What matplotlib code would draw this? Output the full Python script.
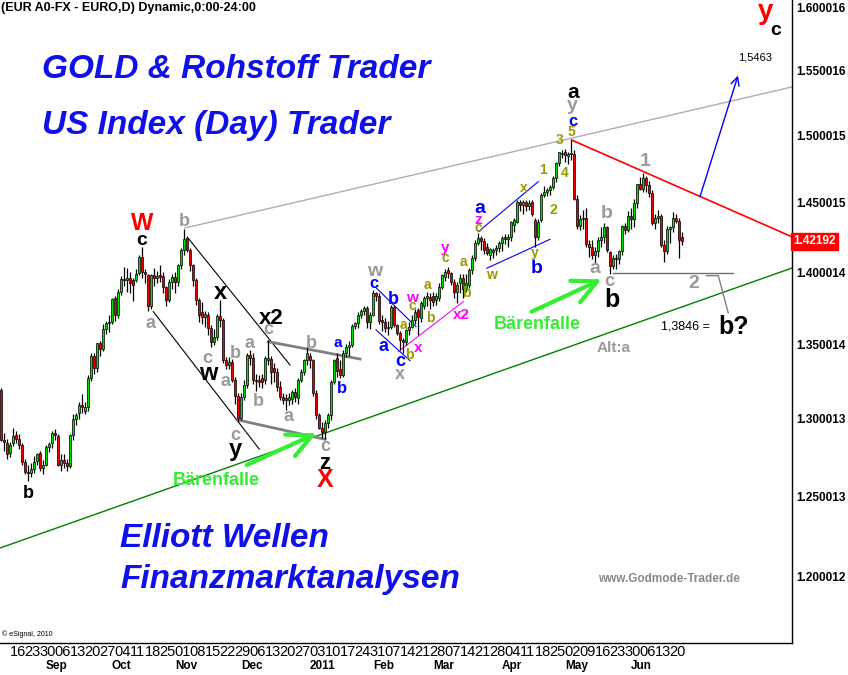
import numpy as np
import pandas as pd
import matplotlib
matplotlib.use('Agg')
import matplotlib.pyplot as plt
import matplotlib.transforms as mtransforms
from matplotlib.ticker import NullLocator

plt.rcParams['font.family'] = ['Liberation Sans', 'DejaVu Sans']

# EUR/USD daily candles, 11 Aug 2010 .. 24 Jun 2011 (one line per month)
opens = [
    1.3190,1.2862,1.2839,1.2774,1.2839,1.2891,1.2865,1.2828,1.2720,1.2657,1.2650,1.2671,1.2725,1.2774,1.2678,
    1.2699,1.2813,1.2839,1.2904,1.2887,1.2699,1.2730,1.2710,1.2692,1.2893,1.2996,1.3035,1.3088,1.3053,1.3079,1.3268,1.3419,1.3335,1.3505,1.3466,1.3601,1.3642,
    1.3653,1.3815,1.3700,1.3862,1.3950,1.3944,1.3957,1.3944,1.3944,1.3992,1.4105,1.4003,1.3980,1.3762,1.3980,1.3957,1.3980,1.3970,1.3893,1.3804,1.3932,
    1.3965,1.3932,1.4050,1.4157,1.4241,1.4157,1.4050,1.3944,1.3804,1.3720,1.3688,1.3700,1.3608,1.3516,1.3551,1.3690,1.3665,1.3392,1.3360,1.3380,1.3257,1.3147,
    1.3002,1.3145,1.3223,1.3425,1.3403,1.3260,1.3257,1.3270,1.3257,1.3392,1.3400,1.3335,1.3313,1.3212,1.3140,1.3135,1.3124,1.3130,1.3179,1.3135,1.3257,1.3313,1.3392,
    1.3420,1.3390,1.3168,1.3024,1.2940,1.2915,1.2970,1.3024,1.3246,1.3403,1.3330,1.3290,1.3440,1.3480,1.3490,1.3625,1.3642,1.3700,1.3730,1.3745,1.3650,
    1.3700,1.3850,1.3830,1.3665,1.3654,1.3608,1.3620,1.3753,1.3631,1.3574,1.3528,1.3516,1.3597,1.3620,1.3665,1.3734,1.3677,1.3762,1.3816,1.3827,
    1.3832,1.3804,1.3816,1.3897,1.3968,1.4015,1.3991,1.3932,1.3860,1.3921,1.3960,1.3880,1.3910,1.4015,1.4098,1.4206,1.4245,1.4220,1.4181,1.4125,1.4140,1.4155,1.4175,
    1.4210,1.4250,1.4235,1.4250,1.4340,1.4360,1.4508,1.4480,1.4505,1.4478,1.4505,1.4374,1.4253,1.4374,1.4557,1.4581,1.4595,1.4615,1.4680,1.4792,1.4860,
    1.4875,1.4845,1.4860,1.4865,1.4530,1.4330,1.4380,1.4390,1.4200,1.4180,1.4120,1.4150,1.4230,1.4250,1.4320,1.4140,1.4040,1.4100,1.4090,1.4150,1.4330,1.4300,
    1.4400,1.4380,1.4500,1.4640,1.4600,1.4680,1.4630,1.4570,1.4350,1.4390,1.4400,1.4190,1.4150,1.4310,1.4320,1.4390,1.4370,1.4250,
]
highs = [
    1.3205,1.2905,1.2870,1.2850,1.2940,1.2920,1.2900,1.2840,1.2735,1.2700,1.2710,1.2760,1.2775,1.2790,1.2730,
    1.2830,1.2850,1.2920,1.2930,1.2900,1.2770,1.2770,1.2740,1.2900,1.3030,1.3040,1.3110,1.3160,1.3110,1.3290,1.3440,1.3440,1.3510,1.3520,1.3640,1.3660,1.3700,
    1.3820,1.3830,1.3880,1.3970,1.4038,1.4030,1.4000,1.3960,1.4020,1.4120,1.4181,1.4020,1.3990,1.3990,1.4030,1.4010,1.4050,1.4000,1.3900,1.3950,1.3990,
    1.4000,1.4060,1.4170,1.4306,1.4260,1.4170,1.4060,1.3960,1.3820,1.3790,1.3730,1.3720,1.3630,1.3600,1.3710,1.3804,1.3680,1.3410,1.3410,1.3400,1.3280,1.3170,
    1.3170,1.3260,1.3440,1.3460,1.3440,1.3300,1.3290,1.3300,1.3420,1.3528,1.3420,1.3370,1.3340,1.3250,1.3170,1.3160,1.3170,1.3190,1.3200,1.3270,1.3330,1.3400,1.3482,
    1.3440,1.3400,1.3190,1.3040,1.2980,1.2990,1.3040,1.3260,1.3400,1.3440,1.3390,1.3460,1.3500,1.3520,1.3640,1.3650,1.3720,1.3740,1.3760,1.3760,1.3720,
    1.3874,1.3860,1.3850,1.3700,1.3680,1.3660,1.3770,1.3760,1.3640,1.3590,1.3540,1.3600,1.3650,1.3700,1.3740,1.3750,1.3800,1.3830,1.3860,1.3850,
    1.3860,1.3850,1.3920,1.3990,1.4020,1.4039,1.4000,1.3950,1.3930,1.3990,1.3990,1.3990,1.4030,1.4120,1.4230,1.4277,1.4260,1.4240,1.4210,1.4170,1.4170,1.4190,1.4220,
    1.4260,1.4270,1.4270,1.4370,1.4390,1.4520,1.4520,1.4520,1.4520,1.4520,1.4520,1.4390,1.4380,1.4570,1.4620,1.4610,1.4630,1.4700,1.4800,1.4880,1.4890,
    1.4900,1.4880,1.4967,1.4890,1.4560,1.4410,1.4450,1.4460,1.4230,1.4230,1.4180,1.4250,1.4320,1.4350,1.4330,1.4150,1.4120,1.4130,1.4160,1.4340,1.4350,1.4440,
    1.4460,1.4530,1.4640,1.4690,1.4720,1.4700,1.4660,1.4590,1.4420,1.4450,1.4420,1.4230,1.4330,1.4330,1.4430,1.4420,1.4390,1.4290,
]
lows = [
    1.2855,1.2790,1.2740,1.2750,1.2820,1.2840,1.2800,1.2700,1.2640,1.2595,1.2620,1.2650,1.2700,1.2660,1.2640,
    1.2690,1.2780,1.2810,1.2860,1.2690,1.2660,1.2680,1.2660,1.2680,1.2860,1.2960,1.3000,1.3040,1.3030,1.3050,1.3250,1.3300,1.3310,1.3420,1.3450,1.3570,1.3580,
    1.3640,1.3660,1.3680,1.3840,1.3900,1.3860,1.3850,1.3800,1.3930,1.3980,1.3960,1.3920,1.3730,1.3740,1.3900,1.3920,1.3930,1.3850,1.3762,1.3790,1.3880,
    1.3850,1.3900,1.4020,1.4120,1.4140,1.4010,1.3900,1.3770,1.3650,1.3640,1.3620,1.3560,1.3480,1.3490,1.3530,1.3620,1.3370,1.3330,1.3330,1.3240,1.3100,1.2975,
    1.2990,1.3120,1.3200,1.3360,1.3230,1.3180,1.3210,1.3200,1.3230,1.3360,1.3230,1.3240,1.3180,1.3120,1.3100,1.3060,1.3090,1.3100,1.3110,1.3100,1.3240,1.3290,1.3360,
    1.3340,1.3150,1.3000,1.2930,1.2875,1.2865,1.2940,1.2990,1.3230,1.3280,1.3270,1.3280,1.3410,1.3420,1.3480,1.3600,1.3610,1.3680,1.3700,1.3610,1.3600,
    1.3690,1.3800,1.3640,1.3590,1.3580,1.3560,1.3600,1.3620,1.3560,1.3460,1.3440,1.3490,1.3560,1.3610,1.3640,1.3560,1.3650,1.3740,1.3760,1.3740,
    1.3760,1.3770,1.3800,1.3880,1.3940,1.3960,1.3910,1.3820,1.3780,1.3850,1.3820,1.3860,1.3890,1.3990,1.4080,1.4190,1.4160,1.4130,1.4120,1.4085,1.4100,1.4120,1.4140,
    1.4150,1.4200,1.4180,1.4220,1.4290,1.4350,1.4440,1.4420,1.4440,1.4450,1.4400,1.4181,1.4230,1.4360,1.4540,1.4550,1.4560,1.4600,1.4650,1.4770,1.4830,
    1.4800,1.4790,1.4820,1.4520,1.4310,1.4300,1.4310,1.4180,1.4110,1.4090,1.4060,1.4110,1.4180,1.4210,1.4140,1.3985,1.4020,1.4020,1.4060,1.4120,1.4270,1.4290,
    1.4310,1.4320,1.4460,1.4590,1.4580,1.4580,1.4540,1.4340,1.4310,1.4350,1.4180,1.4070,1.4130,1.4210,1.4290,1.4350,1.4100,1.4190,
]
closes = [
    1.2862,1.2845,1.2770,1.2828,1.2887,1.2869,1.2828,1.2720,1.2657,1.2650,1.2671,1.2720,1.2770,1.2678,1.2699,
    1.2813,1.2835,1.2904,1.2893,1.2699,1.2730,1.2710,1.2692,1.2893,1.2996,1.3024,1.3088,1.3075,1.3075,1.3268,1.3419,1.3335,1.3505,1.3466,1.3601,1.3642,1.3653,
    1.3811,1.3700,1.3860,1.3950,1.3945,1.3961,1.3921,1.3909,1.3987,1.4105,1.4003,1.3987,1.3762,1.3980,1.3957,1.3975,1.3968,1.3893,1.3804,1.3932,1.3968,
    1.3932,1.4050,1.4157,1.4234,1.4157,1.4050,1.3944,1.3804,1.3700,1.3688,1.3706,1.3608,1.3516,1.3551,1.3690,1.3665,1.3392,1.3360,1.3380,1.3257,1.3147,1.3002,
    1.3145,1.3223,1.3425,1.3403,1.3257,1.3250,1.3240,1.3240,1.3403,1.3403,1.3313,1.3313,1.3212,1.3145,1.3124,1.3120,1.3145,1.3179,1.3140,1.3257,1.3313,1.3392,1.3440,
    1.3390,1.3168,1.3024,1.2940,1.2915,1.2970,1.3024,1.3246,1.3392,1.3320,1.3290,1.3440,1.3480,1.3490,1.3625,1.3642,1.3700,1.3730,1.3745,1.3650,1.3700,
    1.3850,1.3830,1.3660,1.3654,1.3608,1.3620,1.3753,1.3631,1.3574,1.3528,1.3516,1.3597,1.3620,1.3665,1.3723,1.3688,1.3781,1.3816,1.3832,1.3804,
    1.3793,1.3832,1.3897,1.3980,1.4003,1.3991,1.3932,1.3860,1.3910,1.3960,1.3880,1.3920,1.4015,1.4098,1.4206,1.4245,1.4220,1.4157,1.4135,1.4165,1.4155,1.4175,1.4210,
    1.4240,1.4235,1.4250,1.4360,1.4374,1.4508,1.4480,1.4505,1.4478,1.4500,1.4420,1.4253,1.4362,1.4557,1.4581,1.4595,1.4615,1.4680,1.4792,1.4875,1.4870,
    1.4854,1.4865,1.4870,1.4530,1.4330,1.4380,1.4390,1.4200,1.4180,1.4120,1.4150,1.4230,1.4250,1.4320,1.4160,1.4040,1.4100,1.4090,1.4150,1.4330,1.4300,1.4400,
    1.4380,1.4500,1.4640,1.4600,1.4680,1.4630,1.4570,1.4350,1.4390,1.4400,1.4190,1.4150,1.4310,1.4320,1.4390,1.4370,1.4230,1.4219,
]
last_price = 1.42192
price_ticks = [1.600016, 1.550016, 1.500015, 1.450015, 1.400014,
               1.350014, 1.300013, 1.250013, 1.200012]

GRAY = '#9a9a9a'
OLIVE = '#9a9a00'
BLUE = '#0000ff'
MAG = '#ff00ff'
LIME = '#33ee33'

# wave counts: text, bar, price, colour, size
wave_labels = [
    ('W', 46.9, 1.4350, 'red', 17), ('c', 46.9, 1.4229, 'black', 14),
    ('b', 61.0, 1.4361, GRAY, 13), ('a', 49.7, 1.3642, GRAY, 13),
    ('x', 73.0, 1.3853, 'black', 17), ('c', 68.8, 1.3403, GRAY, 13),
    ('w', 69.1, 1.3302, 'black', 17), ('b', 78.0, 1.3437, GRAY, 13),
    ('a', 74.7, 1.3246, GRAY, 13), ('c', 89.1, 1.3597, GRAY, 13),
    ('x2', 90.2, 1.3677, 'black', 16), ('a', 83.0, 1.3505, GRAY, 13),
    ('b', 85.8, 1.3112, GRAY, 13), ('a', 95.8, 1.3013, GRAY, 13),
    ('b', 103.6, 1.3505, GRAY, 13), ('a', 112.4, 1.3505, BLUE, 11),
    ('b', 113.6, 1.3201, BLUE, 12), ('c', 78.0, 1.2893, GRAY, 13),
    ('y', 78.0, 1.2796, 'black', 17), ('c', 108.0, 1.2817, GRAY, 13),
    ('z', 108.0, 1.2711, 'black', 16), ('X', 108.0, 1.2603, 'red', 18),
    ('b', 9.1, 1.2519, 'black', 13),
    ('w', 124.7, 1.4001, GRAY, 14), ('c', 124.4, 1.3921, BLUE, 12),
    ('b', 130.8, 1.3804, BLUE, 13), ('w', 136.9, 1.3816, MAG, 11),
    ('c', 137.2, 1.3762, OLIVE, 10), ('a', 134.1, 1.3631, OLIVE, 10),
    ('b', 143.0, 1.3677, OLIVE, 10), ('a', 142.1, 1.3909, OLIVE, 10),
    ('a', 127.4, 1.3482, BLUE, 13), ('x', 139.1, 1.3471, MAG, 11),
    ('b', 136.1, 1.3425, OLIVE, 10), ('c', 133.2, 1.3380, BLUE, 13),
    ('x', 132.8, 1.3291, GRAY, 13), ('y', 148.0, 1.4170, MAG, 11),
    ('c', 148.0, 1.4098, OLIVE, 10), ('a', 154.1, 1.4074, OLIVE, 10),
    ('b', 155.0, 1.3850, OLIVE, 10), ('x2', 153.6, 1.3700, MAG, 11),
    ('a', 159.7, 1.4459, BLUE, 14), ('z', 159.1, 1.4374, MAG, 11),
    ('c', 159.1, 1.4314, OLIVE, 10), ('w', 163.6, 1.3980, OLIVE, 10),
    ('x', 174.1, 1.4606, OLIVE, 10), ('y', 178.0, 1.4133, OLIVE, 10),
    ('b', 178.6, 1.4027, BLUE, 14),
    ('1', 180.8, 1.4742, OLIVE, 10), ('2', 184.1, 1.4447, OLIVE, 10),
    ('3', 186.1, 1.4967, OLIVE, 10), ('4', 188.0, 1.4717, OLIVE, 10),
    ('5', 190.2, 1.5030, OLIVE, 10), ('c', 190.6, 1.5106, BLUE, 12),
    ('y', 190.6, 1.5234, GRAY, 14), ('a', 190.8, 1.5329, 'black', 15),
    ('b', 201.9, 1.4423, GRAY, 14), ('a', 197.8, 1.4027, GRAY, 14),
    ('c', 202.8, 1.3932, GRAY, 13), ('b', 203.6, 1.3804, 'black', 18),
    ('Alt:a', 204.1, 1.3471, GRAY, 11),
    ('1', 214.7, 1.4804, GRAY, 14), ('2', 230.8, 1.3921, GRAY, 14),
    ('b?', 244.1, 1.3619, 'black', 18),
    ('y', 254.7, 1.5968, 'red', 20), ('c', 258.3, 1.5823, 'black', 14),
]
trap_labels = [('Bärenfalle', 71.9, 1.2603), ('Bärenfalle', 178.8, 1.3631)]
target_text = ('1,5463', 251.3, 1.5601)
b_target_text = ('1,3846 =', 228.3, 1.3619)

# trend lines as (bar, price) end points
upper_line = [(61.33, 1.4316), (263.67, 1.5374)]
lower_line = [(-0.33, 1.2177), (263.67, 1.4029)]
red_line = [(190.2, 1.4967), (263.67, 1.4252)]
black_lines = [[(62.43, 1.4241), (96.33, 1.3358)], [(50.77, 1.3723), (86.1, 1.2801)]]
gray_thick = [[(79.1, 1.2991), (108.0, 1.2865)], [(89.1, 1.3516), (119.67, 1.3398)]]
blue_lines = [[(125.2, 1.3886), (138.33, 1.3619)], [(125.0, 1.3597), (136.33, 1.3387)],
              [(159.1, 1.4289), (179.1, 1.4655)], [(161.9, 1.4027), (183.0, 1.4234)]]
magenta_line = [(132.43, 1.3448), (154.1, 1.3793)]
b_level = [(204.1, 1.3996), (244.1, 1.3996)]
bracket = [(235.2, 1.3975), (239.1, 1.3975), (242.4, 1.3716)]
green_arrows = [[(81.9, 1.2699), (105.2, 1.2904)], [(176.9, 1.3723), (200.2, 1.3949)]]
blue_arrow = [(233.0, 1.4544), (245.67, 1.5463)]

n = len(closes)
dates = pd.bdate_range('2010-08-11', periods=n)
x = np.arange(n)
o = np.array(opens)
c = np.array(closes)

fig = plt.figure(figsize=(8.48, 6.75), dpi=100)
ax = fig.add_axes([0, 32 / 675, 792 / 848, 643 / 675])
ax.set_yscale('log')
ax.set_ylim(1.1606, 1.6065)
ax.set_xlim(-1 / 3, 263.67)

# trend lines
def seg(pts, **kw):
    xs, ys = zip(*pts)
    ax.plot(xs, ys, **kw)

seg(upper_line, color='#bba5b8', lw=1, zorder=1)
seg(lower_line, color='#008000', lw=1, zorder=1)
seg(red_line, color='red', lw=1.2, zorder=1)
for ln in black_lines:
    seg(ln, color='black', lw=0.8, zorder=1)
for ln in gray_thick:
    seg(ln, color='#808080', lw=2, zorder=2)
for ln in blue_lines:
    seg(ln, color=BLUE, lw=0.8, zorder=2)
seg(magenta_line, color=MAG, lw=0.8, zorder=2)
seg(b_level, color='#707070', lw=1, zorder=2)
seg(bracket, color='#808080', lw=1, zorder=2)

# candles
ax.vlines(x, lows, highs, color='black', lw=0.9, zorder=3)
cols = np.where(c >= o, '#00dd00', '#ee0000')
ax.bar(x, np.abs(c - o), bottom=np.minimum(o, c), width=0.8, color=cols,
       edgecolor='black', linewidth=0.5, zorder=4)

for (tail, tip) in green_arrows:
    ax.annotate('', xy=tip, xytext=tail, zorder=6,
                arrowprops=dict(arrowstyle='->,head_length=1.75,head_width=0.85',
                                color=LIME, lw=3, shrinkA=0, shrinkB=0,
                                mutation_scale=10))
ax.annotate('', xy=blue_arrow[1], xytext=blue_arrow[0],
            arrowprops=dict(arrowstyle='->,head_length=0.6,head_width=0.3',
                            color=BLUE, lw=1, shrinkA=0, shrinkB=0,
                            mutation_scale=10))

for s, i, p, col, size in wave_labels:
    ax.text(i, p, s, color=col, fontsize=size, fontweight='bold',
            ha='center', va='center', zorder=7)
for s, i, p in trap_labels:
    ax.text(i, p, s, color=LIME, fontsize=13, fontweight='bold',
            ha='center', va='center', zorder=7)
ax.text(target_text[1], target_text[2], target_text[0], fontsize=8,
        ha='center', va='center')
ax.text(b_target_text[1], b_target_text[2], b_target_text[0], fontsize=9,
        ha='center', va='center')

# axes styling
for side in ['top', 'left']:
    ax.spines[side].set_visible(False)
for side in ['right', 'bottom']:
    ax.spines[side].set_linewidth(1)
ax.yaxis.tick_right()
ax.set_yticks(price_ticks)
ax.set_yticklabels([f'{v:.6f}' for v in price_ticks], fontsize=8.5,
                   fontweight='bold')
ax.yaxis.set_minor_locator(NullLocator())
ax.tick_params(axis='y', length=0, pad=3)
ax.set_xticks([])

trans = mtransforms.blended_transform_factory(ax.transAxes, ax.transData)
ax.text(1.002, last_price, f'{last_price:.5f}', transform=trans, color='white',
        fontsize=8.5, fontweight='bold', ha='left', va='center',
        bbox=dict(boxstyle='square,pad=0.2', fc='red', ec='red'))

xtrans = mtransforms.blended_transform_factory(ax.transData, ax.transAxes)
for i, d in enumerate(dates):
    if d.dayofweek == 0:
        ax.text(i - 0.1, -0.003, f'{d.day:02d}', transform=xtrans,
                fontsize=10.5, family=['Liberation Sans Narrow', 'Liberation Sans'],
                ha='left', va='top')
    if i > 0 and d.month != dates[i - 1].month:
        name = str(d.year) if d.month == 1 else d.strftime('%b')
        ax.text(i, -0.027, name, transform=xtrans, fontsize=8.5,
                fontweight='bold', ha='left', va='top')

# header texts
fig.text(1 / 848, 1 - 2 / 675, '(EUR A0-FX - EURO,D) Dynamic,0:00-24:00',
         fontsize=9, fontweight='bold', va='top')
hdr = dict(fontsize=24, fontweight='bold', fontstyle='italic',
           color='#1010e8', va='baseline')
fig.text(42 / 848, 1 - 78 / 675, 'GOLD & Rohstoff Trader', **hdr)
fig.text(42 / 848, 1 - 134 / 675, 'US Index (Day) Trader', **hdr)
fig.text(120 / 848, 1 - 547 / 675, 'Elliott Wellen', **hdr)
fig.text(120 / 848, 1 - 588 / 675, 'Finanzmarktanalysen', **hdr)
fig.text(598 / 848, 1 - 579 / 675, 'www.Godmode-Trader.de', fontsize=8.5,
         fontweight='bold', color='#888888', va='center')
fig.text(2 / 848, 1 - 634 / 675, '\u00a9 eSignal, 2010', fontsize=5,
         va='center')

fig.savefig('out.png', dpi=100)
